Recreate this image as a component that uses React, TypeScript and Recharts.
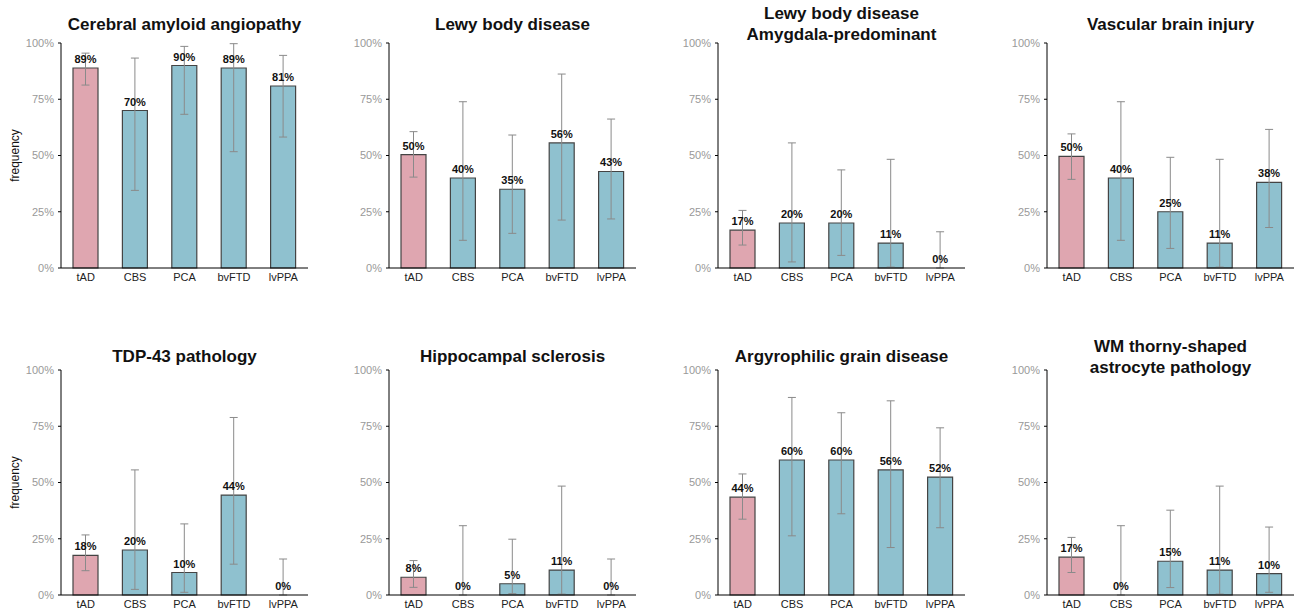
import React from "react"
import { BarChart, Bar, XAxis, YAxis, Cell, LabelList, ErrorBar } from "recharts"

const groups = ["tAD", "CBS", "PCA", "bvFTD", "lvPPA"]
const yTicks = [0, 25, 50, 75, 100]

const titles = [
  ["Cerebral amyloid angiopathy"],
  ["Lewy body disease"],
  ["Lewy body disease", "Amygdala-predominant"],
  ["Vascular brain injury"],
  ["TDP-43 pathology"],
  ["Hippocampal sclerosis"],
  ["Argyrophilic grain disease"],
  ["WM thorny-shaped", "astrocyte pathology"],
]

// bar heights (%)
const caaValues = [88.9, 70, 90, 88.9, 80.9]
const lbdValues = [50.4, 40, 35, 55.6, 42.9]
const amygValues = [16.8, 20, 20, 11.1, 0]
const vbiValues = [49.6, 40, 25, 11.1, 38.1]
const tdpValues = [17.6, 20, 10, 44.4, 0]
const hsValues = [7.9, 0, 5, 11.1, 0]
const agdValues = [43.5, 60, 60, 55.6, 52.4]
const wmValues = [16.8, 0, 15, 11.1, 9.5]

// confidence interval bounds (%)
const caaLow = [81.3, 34.5, 68.3, 51.7, 58.2]
const caaHigh = [95.5, 93.3, 98.5, 99.7, 94.5]
const lbdLow = [40.4, 12.3, 15.4, 21.3, 21.8]
const lbdHigh = [60.6, 73.9, 59.1, 86.2, 66.2]
const amygLow = [10.2, 2.7, 5.6, 0.4, 0]
const amygHigh = [25.6, 55.6, 43.6, 48.3, 16.1]
const vbiLow = [39.4, 12.3, 8.7, 0.4, 18]
const vbiHigh = [59.6, 73.9, 49.2, 48.3, 61.6]
const tdpLow = [10.8, 2.5, 1.2, 13.7, 0]
const tdpHigh = [26.7, 55.6, 31.6, 78.9, 16]
const hsLow = [3.4, 0, 0.6, 0.4, 0]
const hsHigh = [15.3, 30.8, 24.8, 48.4, 16]
const agdLow = [33.7, 26.3, 36.1, 21.1, 29.9]
const agdHigh = [53.8, 87.8, 81, 86.3, 74.3]
const wmLow = [10, 0, 3.3, 0.4, 1.2]
const wmHigh = [25.6, 30.8, 37.7, 48.4, 30.2]

const panelValues = [caaValues, lbdValues, amygValues, vbiValues, tdpValues, hsValues, agdValues, wmValues]
const panelLow = [caaLow, lbdLow, amygLow, vbiLow, tdpLow, hsLow, agdLow, wmLow]
const panelHigh = [caaHigh, lbdHigh, amygHigh, vbiHigh, tdpHigh, hsHigh, agdHigh, wmHigh]

const PINK = "#DFA6B0"
const BLUE = "#8FC1CF"
const FONT = '"Liberation Sans", Arial, Helvetica, sans-serif'

const colAxisX = [61, 389, 718, 1047]
const rowPlotTop = [43, 370]
const rowTitleCenter = [24, 356.5]
const PLOT_W = 247
const PLOT_H = 225
const Y_AXIS_W = 56
const M_LEFT = 5
const M_TOP = 8
const X_AXIS_H = 20

function Panel({ idx }: { idx: number }) {
  const col = idx % 4
  const row = Math.floor(idx / 4)
  const values = panelValues[idx]
  // zero bars get dropped by recharts (no label, no error bar), so lift them a hair
  const data = groups.map((g, i) => {
    const v = Math.max(values[i], 0.001)
    return {
      group: g,
      value: v,
      err: [v - panelLow[idx][i], panelHigh[idx][i] - v],
    }
  })
  const axisX = colAxisX[col]
  const left = axisX - Y_AXIS_W - M_LEFT
  const top = rowPlotTop[row] - M_TOP
  const width = Y_AXIS_W + M_LEFT + PLOT_W
  const height = M_TOP + PLOT_H + X_AXIS_H
  const lines = titles[idx]
  const lh = 21

  return (
    <>
      <div
        style={{
          position: "absolute",
          left: axisX,
          width: PLOT_W,
          top: rowTitleCenter[row] - (lines.length * lh) / 2,
          textAlign: "center",
          fontFamily: FONT,
          fontWeight: 700,
          fontSize: 17,
          lineHeight: `${lh}px`,
          color: "#111",
        }}
      >
        {lines.map((l) => (
          <div key={l}>{l}</div>
        ))}
      </div>
      <div style={{ position: "absolute", left, top }}>
        <BarChart
          width={width}
          height={height}
          data={data}
          margin={{ top: M_TOP, right: 0, left: M_LEFT, bottom: 0 }}
          barSize={25}
        >
          <XAxis
            dataKey="group"
            height={X_AXIS_H}
            tickLine={false}
            tickSize={0}
            tickMargin={5}
            axisLine={{ stroke: "#000", strokeWidth: 1 }}
            tick={{ fill: "#222", fontSize: 11, fontFamily: FONT }}
            interval={0}
          />
          <YAxis
            width={Y_AXIS_W}
            domain={[0, 100]}
            ticks={yTicks}
            tickFormatter={(v) => `${v}%`}
            tickSize={3}
            tickMargin={4}
            tickLine={{ stroke: "#000" }}
            axisLine={{ stroke: "#000", strokeWidth: 1 }}
            tick={{ fill: "#999", fontSize: 11, fontFamily: FONT }}
            label={
              col === 0
                ? {
                    value: "frequency",
                    angle: -90,
                    position: "insideLeft",
                    offset: 10,
                    style: { textAnchor: "middle", fill: "#111", fontSize: 12, fontFamily: FONT },
                  }
                : undefined
            }
          />
          <Bar dataKey="value" isAnimationActive={false} stroke="#444" strokeWidth={1.2}>
            {data.map((d, i) => (
              <Cell key={d.group} fill={i === 0 ? PINK : BLUE} stroke={d.value < 0.01 ? "none" : "#444"} />
            ))}
            <ErrorBar dataKey="err" direction="y" width={4} stroke="#8a8a8a" strokeWidth={1} />
            <LabelList
              dataKey="value"
              position="top"
              offset={5}
              formatter={(v: any) => `${Math.round(Number(v))}%`}
              style={{ fill: "#111", fontSize: 11, fontWeight: 700, fontFamily: FONT }}
            />
          </Bar>
        </BarChart>
      </div>
    </>
  )
}

export default function App() {
  return (
    <div
      style={{
        position: "fixed",
        left: 0,
        top: 0,
        width: 1294,
        height: 612,
        overflow: "hidden",
        background: "#fff",
      }}
    >
      {titles.map((_, i) => (
        <Panel key={i} idx={i} />
      ))}
    </div>
  )
}
